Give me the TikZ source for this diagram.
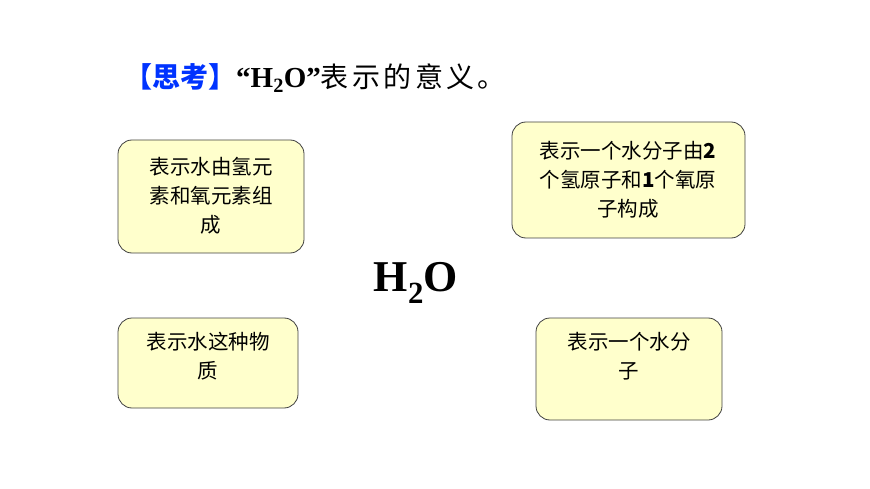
\documentclass[tikz,border=0pt]{standalone}
\usepackage{fontspec}
\setmainfont{Liberation Serif}
\newfontfamily\cjk{Noto Sans CJK SC}
\newfontfamily\cjkwide[LetterSpace=12]{Noto Sans CJK SC}
\begin{document}
\begin{tikzpicture}[x=1pt,y=-1pt,
  bx/.style={draw=black!75,line width=0.8pt,fill={rgb,255:red,255;green,255;blue,204},rounded corners=14pt},
  tx/.style={align=center,font=\cjk\fontsize{20.5}{29}\selectfont,text=black}]
\useasboundingbox (0,0) rectangle (870,489);
\node[anchor=west,inner sep=0] (title) at (124,78) {\textcolor[RGB]{0,51,255}{\cjk\bfseries\fontsize{28}{32}\selectfont 【思考】}\fontsize{29}{32}\selectfont\bfseries “H\textsubscript{2}O”{\cjkwide\mdseries\fontsize{28}{32}\selectfont 表示的意义。}};
\draw[bx] (118,140) rectangle (304,253);
\node[tx] (a) at (211,196) {表示水由氢元\\素和氧元素组\\成};
\draw[bx] (512,122) rectangle (745,238);
\node[tx] (b) at (628,180) {表示一个水分子由\textbf{2}\\个氢原子和\textbf{1}个氧原\\子构成};
\draw[bx] (118,318) rectangle (298,408);
\node[tx] (c) at (208,356) {表示水这种物\\质};
\draw[bx] (536,318) rectangle (722,420);
\node[tx] (d) at (629,356) {表示一个水分\\子};
\node (h) at (416,283) {\fontsize{44}{48}\selectfont\bfseries H\textsubscript{2}O};
\end{tikzpicture}
\end{document}
